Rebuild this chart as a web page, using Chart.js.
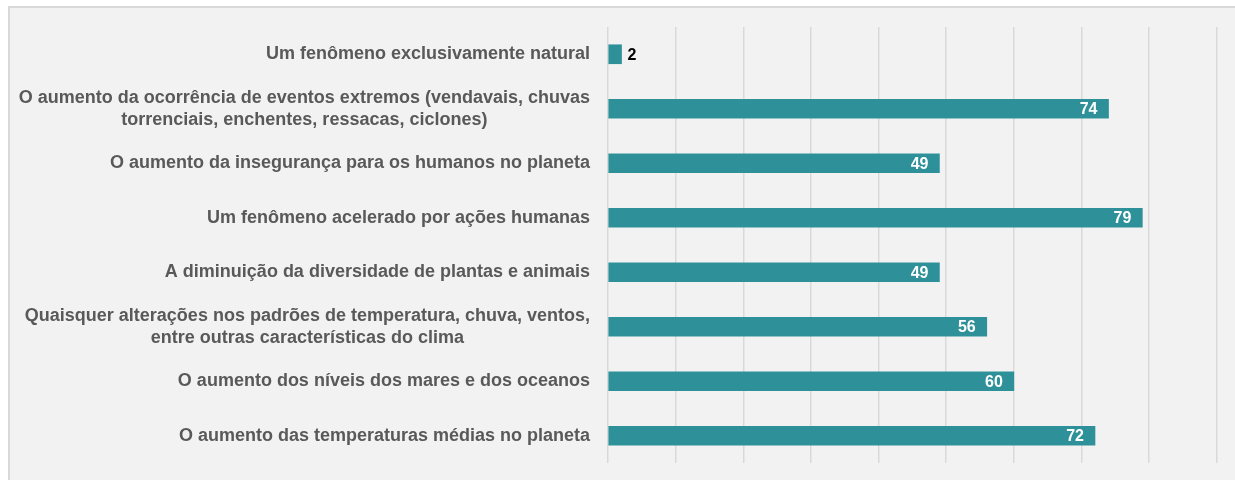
<!DOCTYPE html>
<html>
<head>
<meta charset="utf-8">
<script src="https://cdn.jsdelivr.net/npm/chart.js@4"></script>
<style>
  html, body { margin: 0; padding: 0; background: #ffffff; }
  #panel {
    position: absolute; left: 8px; top: 6px; width: 1240px; height: 480px;
    background: #f2f2f2; border-top: 2px solid #d9d9d9; border-left: 2px solid #d9d9d9;
  }
  #wrap { position: absolute; left: 0; top: 0; width: 1235px; height: 480px; }
</style>
</head>
<body>
<div id="panel"></div>
<div id="wrap"><canvas id="chart"></canvas></div>
<script>
const categories = [
  'Um fenômeno exclusivamente natural',
  ['O aumento da ocorrência de eventos extremos (vendavais, chuvas', 'torrenciais, enchentes, ressacas, ciclones)'],
  'O aumento da insegurança para os humanos no planeta',
  'Um fenômeno acelerado por ações humanas',
  'A diminuição da diversidade de plantas e animais',
  ['Quaisquer alterações nos padrões de temperatura, chuva, ventos,', 'entre outras características do clima'],
  'O aumento dos níveis dos mares e dos oceanos',
  'O aumento das temperaturas médias no planeta'
];
const values = [2, 74, 49, 79, 49, 56, 60, 72];
const gridTicks = [0, 10, 20, 30, 40, 50, 60, 70, 80, 90];

const barColor = '#2e9199';
const labelFont = 'bold 18px "Liberation Sans", Arial, sans-serif';

// left labels: right-aligned block, lines centred inside the block
const categoryLabels = {
  id: 'categoryLabels',
  afterDraw(chart) {
    const { ctx, chartArea } = chart;
    const yScale = chart.scales.y;
    const right = chartArea.left - 18;
    ctx.save();
    ctx.font = labelFont;
    ctx.fillStyle = '#595959';
    ctx.textAlign = 'center';
    ctx.textBaseline = 'middle';
    categories.forEach((lab, i) => {
      const lines = Array.isArray(lab) ? lab : [lab];
      const w = Math.max(...lines.map(l => ctx.measureText(l).width));
      const cx = right - w / 2;
      const y = yScale.getPixelForValue(i);
      const lh = 22;
      lines.forEach((l, k) => {
        ctx.fillText(l, cx, y + (k - (lines.length - 1) / 2) * lh);
      });
    });
    ctx.restore();
  }
};

// value labels on bars
const valueLabels = {
  id: 'valueLabels',
  afterDatasetsDraw(chart) {
    const { ctx } = chart;
    const meta = chart.getDatasetMeta(0);
    ctx.save();
    ctx.font = 'bold 16px "Liberation Sans", Arial, sans-serif';
    ctx.textBaseline = 'middle';
    meta.data.forEach((bar, i) => {
      const v = values[i];
      if (v < 10) {
        ctx.fillStyle = '#000000';
        ctx.textAlign = 'left';
        ctx.fillText(String(v), bar.x + 6, bar.y + 1);
      } else {
        ctx.fillStyle = '#ffffff';
        ctx.textAlign = 'right';
        ctx.fillText(String(v), bar.x - 11, bar.y + 1);
      }
    });
    ctx.restore();
  }
};

new Chart(document.getElementById('chart'), {
  type: 'bar',
  data: {
    labels: categories,
    datasets: [{
      data: values,
      backgroundColor: barColor,
      borderWidth: 0,
      barThickness: 19
    }]
  },
  options: {
    indexAxis: 'y',
    responsive: true,
    maintainAspectRatio: false,
    animation: false,
    layout: { padding: { top: 27, bottom: 17, left: 0, right: 0 } },
    plugins: {
      legend: { display: false },
      tooltip: { enabled: false }
    },
    scales: {
      x: {
        min: 0,
        max: 92.7,
        ticks: { display: false },
        afterBuildTicks: axis => { axis.ticks = gridTicks.map(v => ({ value: v })); },
        grid: { color: '#d9d9d9', lineWidth: 1.5, drawTicks: false },
        border: { display: false }
      },
      y: {
        ticks: { display: false },
        grid: { display: false },
        border: { display: false },
        afterFit: scale => { scale.width = 608; }
      }
    }
  },
  plugins: [categoryLabels, valueLabels]
});
</script>
</body>
</html>
